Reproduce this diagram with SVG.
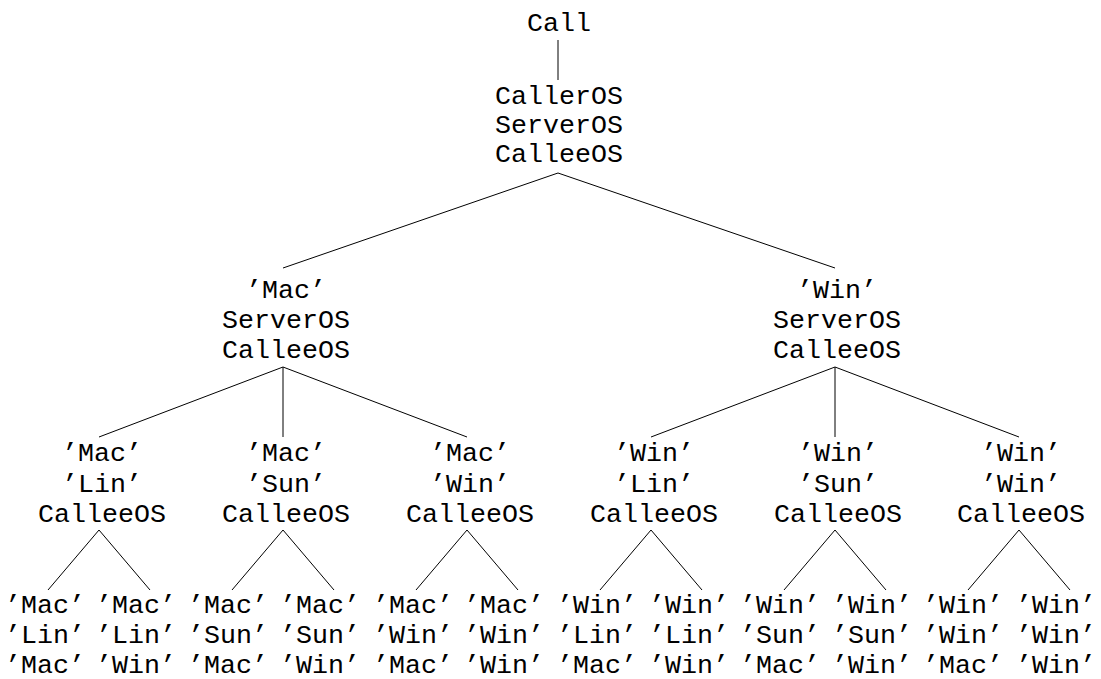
<svg xmlns="http://www.w3.org/2000/svg" width="1101" height="679" viewBox="0 0 1101 679">
<style>
text{font-family:"Liberation Mono","Courier New",monospace;font-size:26.67px;fill:#000;text-anchor:middle}
.e line{stroke:#000;stroke-width:1}
</style>
<rect width="1101" height="679" fill="#fff"/>
<g class="e" id="connectors">
<line x1="558" y1="40" x2="558" y2="80"/>
<line x1="558" y1="173" x2="283" y2="268"/>
<line x1="558" y1="173" x2="835" y2="268"/>
<line x1="283" y1="367" x2="99" y2="437"/>
<line x1="283" y1="367" x2="283" y2="437"/>
<line x1="283" y1="367" x2="467" y2="437"/>
<line x1="835" y1="367" x2="651" y2="437"/>
<line x1="835" y1="367" x2="835" y2="437"/>
<line x1="835" y1="367" x2="1019" y2="437"/>
<line x1="99" y1="530" x2="48" y2="590"/>
<line x1="99" y1="530" x2="150" y2="590"/>
<line x1="283" y1="530" x2="232" y2="590"/>
<line x1="283" y1="530" x2="334" y2="590"/>
<line x1="467" y1="530" x2="416" y2="590"/>
<line x1="467" y1="530" x2="518" y2="590"/>
<line x1="651" y1="530" x2="600" y2="590"/>
<line x1="651" y1="530" x2="702" y2="590"/>
<line x1="835" y1="530" x2="784" y2="590"/>
<line x1="835" y1="530" x2="886" y2="590"/>
<line x1="1019" y1="530" x2="968" y2="590"/>
<line x1="1019" y1="530" x2="1070" y2="590"/>
</g>
<g id="call"><text x="559" y="31">Call</text></g>
<g id="root"><text x="559" y="104">CallerOS</text><text x="559" y="133">ServerOS</text><text x="559" y="162">CalleeOS</text></g>
<g id="mac"><text x="286" y="298">’Mac’</text><text x="286" y="328">ServerOS</text><text x="286" y="358">CalleeOS</text></g>
<g id="win"><text x="837" y="298">’Win’</text><text x="837" y="328">ServerOS</text><text x="837" y="358">CalleeOS</text></g>
<g id="mac-lin"><text x="102" y="461">’Mac’</text><text x="102" y="492">’Lin’</text><text x="102" y="522">CalleeOS</text></g>
<g id="mac-sun"><text x="286" y="461">’Mac’</text><text x="286" y="492">’Sun’</text><text x="286" y="522">CalleeOS</text></g>
<g id="mac-win"><text x="470" y="461">’Mac’</text><text x="470" y="492">’Win’</text><text x="470" y="522">CalleeOS</text></g>
<g id="win-lin"><text x="654" y="461">’Win’</text><text x="654" y="492">’Lin’</text><text x="654" y="522">CalleeOS</text></g>
<g id="win-sun"><text x="838" y="461">’Win’</text><text x="838" y="492">’Sun’</text><text x="838" y="522">CalleeOS</text></g>
<g id="win-win"><text x="1021" y="461">’Win’</text><text x="1021" y="492">’Win’</text><text x="1021" y="522">CalleeOS</text></g>
<g id="leaf1"><text x="45" y="613">’Mac’</text><text x="45" y="643">’Lin’</text><text x="45" y="673">’Mac’</text></g>
<g id="leaf2"><text x="136" y="613">’Mac’</text><text x="136" y="643">’Lin’</text><text x="136" y="673">’Win’</text></g>
<g id="leaf3"><text x="228" y="613">’Mac’</text><text x="228" y="643">’Sun’</text><text x="228" y="673">’Mac’</text></g>
<g id="leaf4"><text x="320" y="613">’Mac’</text><text x="320" y="643">’Sun’</text><text x="320" y="673">’Win’</text></g>
<g id="leaf5"><text x="413" y="613">’Mac’</text><text x="413" y="643">’Win’</text><text x="413" y="673">’Mac’</text></g>
<g id="leaf6"><text x="504" y="613">’Mac’</text><text x="504" y="643">’Win’</text><text x="504" y="673">’Win’</text></g>
<g id="leaf7"><text x="597" y="613">’Win’</text><text x="597" y="643">’Lin’</text><text x="597" y="673">’Mac’</text></g>
<g id="leaf8"><text x="689" y="613">’Win’</text><text x="689" y="643">’Lin’</text><text x="689" y="673">’Win’</text></g>
<g id="leaf9"><text x="780" y="613">’Win’</text><text x="780" y="643">’Sun’</text><text x="780" y="673">’Mac’</text></g>
<g id="leaf10"><text x="872" y="613">’Win’</text><text x="872" y="643">’Sun’</text><text x="872" y="673">’Win’</text></g>
<g id="leaf11"><text x="963" y="613">’Win’</text><text x="963" y="643">’Win’</text><text x="963" y="673">’Mac’</text></g>
<g id="leaf12"><text x="1056" y="613">’Win’</text><text x="1056" y="643">’Win’</text><text x="1056" y="673">’Win’</text></g>
</svg>
